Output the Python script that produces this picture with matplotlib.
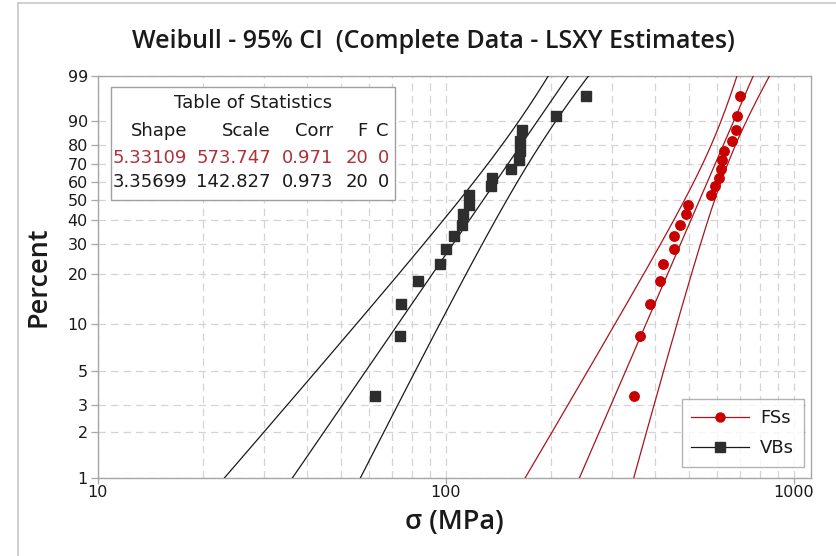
import numpy as np
import matplotlib
matplotlib.use("Agg")
import matplotlib.pyplot as plt
from matplotlib.lines import Line2D
from matplotlib.ticker import FixedLocator, NullFormatter

plt.rcParams['font.family'] = ['DejaVu Sans']
head_font = ['Open Sans', 'DejaVu Sans']

# strengths, sorted (n = 20 each)
fs_strength = [347.4, 361.4, 386.2, 412.6, 420.1, 453.6, 453.6, 471.0, 490.0, 497.5,
               578.3, 593.8, 610.9, 616.6, 622.0, 631.5, 664.5, 680.8, 685.4, 700.5]
vb_strength = [62.6, 73.9, 74.3, 83.2, 96.2, 100.1, 105.6, 111.3, 112.0, 116.6,
               116.6, 134.9, 135.8, 153.7, 162.3, 163.2, 163.2, 165.9, 207.4, 252.9]

series_names = ['FSs', 'VBs']
shape = [5.33109, 3.35699]
scale = [573.747, 142.827]
corr = [0.971, 0.973]
n_fail = [20, 20]
n_cens = [0, 0]

y_ticks = [1, 2, 3, 5, 10, 20, 30, 40, 50, 60, 70, 80, 90, 99]
x_major = [10, 100, 1000]

red_pt = '#C80000'
red_ln = '#A8141E'
red_txt = '#B0303A'
blk_pt = '#2E2E2E'
blk_ln = '#1A1A1A'
txt = '#1A1A1A'


def fwd(p):
    p = np.clip(np.asarray(p, dtype=float), 1e-6, 100 - 1e-6)
    return np.log(-np.log(1 - p / 100.0))


def inv(w):
    return 100.0 * (1 - np.exp(-np.exp(w)))


def ci_bands(x, beta, eta, w):
    """95% CI on log(x_p) using observed information at the given estimates"""
    u, b = np.log(eta), 1.0 / beta
    z = (np.log(x) - u) / b
    ez = np.exp(z)
    huu = -np.sum(ez) / b**2
    hub = -np.sum(ez - 1 + z * ez) / b**2
    hbb = np.sum(1 + 2 * z - 2 * z * ez - z**2 * ez) / b**2
    cov = np.linalg.inv(-np.array([[huu, hub], [hub, hbb]]))
    lx = u + w * b
    var = cov[0, 0] + w**2 * cov[1, 1] + 2 * w * cov[0, 1]
    se = np.sqrt(var)
    return np.exp(lx), np.exp(lx - 1.96 * se), np.exp(lx + 1.96 * se)


def fx(px):
    return px / 837


def fy(py):
    return 1 - py / 556


fig = plt.figure(figsize=(8.37, 5.56), dpi=100)
ax = fig.add_axes([fx(97.7), fy(477.7), fx(811) - fx(97.7), fy(75.7) - fy(477.7)])
ax.set_xscale('log')
ax.set_yscale('function', functions=(fwd, inv))
ax.set_xlim(10, 1119)
ax.set_ylim(1, 99)

w = np.linspace(-5.5, 2.5, 300)
datasets = [fs_strength, vb_strength]
pt_colors = [red_pt, blk_pt]
ln_colors = [red_ln, blk_ln]
markers = ['o', 's']
msizes = [6.8, 7.2]
handles = []
for data, beta, eta, pc, lc, mk, ms, name in zip(datasets, shape, scale, pt_colors,
                                                 ln_colors, markers, msizes, series_names):
    x = np.array(data)
    n = len(x)
    ranks = (np.arange(1, n + 1) - 0.3) / (n + 0.4) * 100
    mid, lo, hi = ci_bands(x, beta, eta, w)
    pp = inv(w)
    for line in (mid, lo, hi):
        ax.plot(line, pp, color=lc, lw=0.9, zorder=3)
    ax.plot(x, ranks, ls='none', marker=mk, ms=ms, color=pc, mec=pc, zorder=4)
    handles.append(Line2D([], [], color=lc, lw=0.9, marker=mk, ms=ms * 0.95,
                          markerfacecolor=pc, markeredgecolor=pc, label=name))

# axes look
ax.set_yticks(y_ticks)
ax.set_yticklabels([str(t) for t in y_ticks])
ax.xaxis.set_major_locator(FixedLocator(x_major))
ax.set_xticklabels([str(t) for t in x_major])
minors = [m * d for d in (10, 100) for m in range(2, 10)]
ax.xaxis.set_minor_locator(FixedLocator(minors))
ax.xaxis.set_minor_formatter(NullFormatter())
ax.yaxis.set_minor_locator(FixedLocator([]))
ax.grid(True, which='both', color='#D4D4D4', ls=(0, (6, 4)), lw=0.9, zorder=0)
ax.set_axisbelow(True)
for s in ax.spines.values():
    s.set_color('#A6A6A6')
    s.set_linewidth(1.0)
ax.tick_params(axis='both', which='major', length=5, width=0.9, color='#A6A6A6',
               labelsize=11.5, pad=2, labelcolor=txt)
ax.tick_params(axis='x', which='minor', length=0)
ax.tick_params(axis='x', which='major', length=4, pad=1)

ax.set_xlabel('σ (MPa)', fontsize=19.5, fontweight='semibold', family=head_font,
              labelpad=6, color=txt)
ax.set_ylabel('Percent', fontsize=19.5, fontweight='semibold', family=head_font,
              labelpad=11, color=txt)
fig.text(fx(433), fy(42), 'Weibull - 95% CI  (Complete Data - LSXY Estimates)',
         ha='center', va='center', fontsize=18, fontweight='semibold', family=head_font,
         color=txt)

# statistics table
fig.patches.append(plt.Rectangle((fx(111), fy(200)), fx(395) - fx(111), fy(87) - fy(200),
                                 transform=fig.transFigure, fc='white', ec='#A0A0A0',
                                 lw=1.0, zorder=5))
tstyle = dict(fontsize=13, va='center', zorder=6)
fig.text(fx(253), fy(103), 'Table of Statistics', ha='center', color=txt, **tstyle)
col_right = [187, 271, 333, 368, 389]
headers = ['Shape', 'Scale', 'Corr', 'F', 'C']
for xr, h in zip(col_right, headers):
    fig.text(fx(xr), fy(131), h, ha='right', color=txt, **tstyle)
row_y = [158, 182]
row_colors = [red_txt, txt]
for i in range(2):
    vals = ['%.5f' % shape[i], '%.3f' % scale[i], '%.3f' % corr[i], str(n_fail[i]), str(n_cens[i])]
    for xr, v in zip(col_right, vals):
        fig.text(fx(xr), fy(row_y[i]), v, ha='right', color=row_colors[i], **tstyle)

leg = ax.legend(handles=handles, loc='lower right', bbox_to_anchor=(fx(804), fy(467)),
                bbox_transform=fig.transFigure, fontsize=13, frameon=True, fancybox=False,
                edgecolor='#A0A0A0', handlelength=3.2, handletextpad=0.6, borderpad=0.55,
                labelspacing=0.65, borderaxespad=0, labelcolor=txt)
leg.get_frame().set_linewidth(1.0)
leg.set_zorder(7)

# outer graph frame
fig.add_artist(Line2D([fx(18), fx(18)], [0, fy(3)], color='#C8C8C8', lw=1.2,
                      transform=fig.transFigure))
fig.add_artist(Line2D([fx(18), 1], [fy(3), fy(3)], color='#C8C8C8', lw=1.2,
                      transform=fig.transFigure))

fig.savefig('out.png', dpi=100)
